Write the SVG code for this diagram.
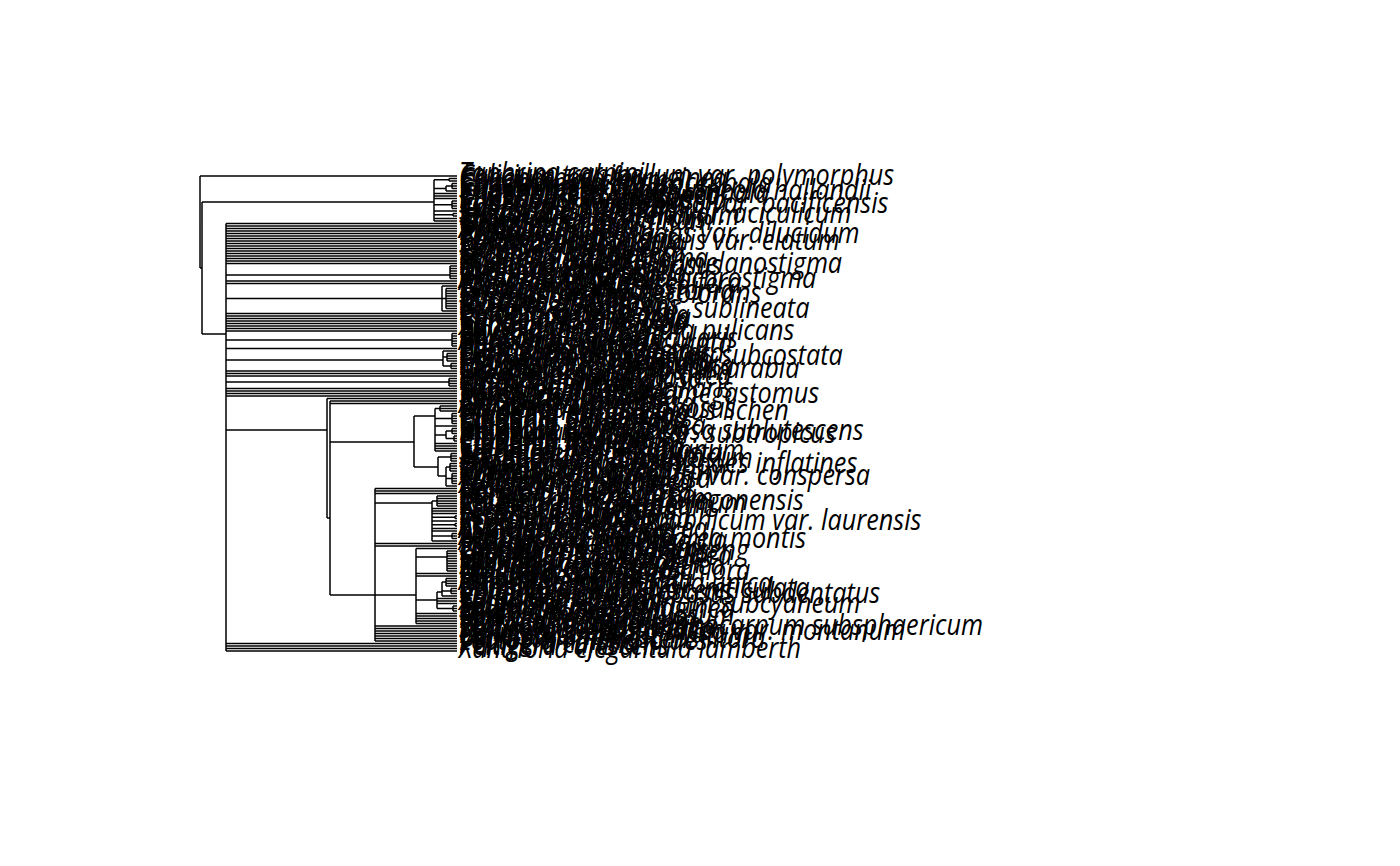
<svg xmlns="http://www.w3.org/2000/svg" width="1400" height="866" viewBox="0 0 1400 866">
<style>
.e{fill:none;stroke:#000;stroke-width:1.5}
text{font-family:"Open Sans","Noto Sans",sans-serif;font-style:italic;font-size:29px;fill:#000}
</style>
<rect width="1400" height="866" fill="#fff"/>
<g id="edges">
<path class="e" d="M200 176V268M200 176H457M200 268H202M202 202V334M202 202H434M202 334H226
M434 179.75V221M434 179.75H449M449 178.5V181M449 178.5H457M449 181H457
M434 188.5H446M446 186V191M446 186H452M452 183.5V188.5M452 183.5H457M452 186H457M452 188.5H457M446 191H457
M434 193.5H457M434 196H457M434 198.5H457
M434 204.75H452M452 201V208.5M452 201H457M452 203.5H457M452 206H457M452 208.5H457
M434 211H457M434 214.75H453M453 213.5V216M453 213.5H457M453 216H457M434 218.5H457M434 221H457
M226 223.5V651
M226 223.5H457M226 226H457M226 228.5H457M226 231H457M226 233.5H457M226 236H457M226 238.5H457M226 241H457M226 243.5H457M226 246H457M226 248.5H457M226 251H457M226 253.5H457M226 256H457M226 258.5H457M226 261H457M226 263.5H457
M226 275H450M450 266V278.5M450 266H457M450 268.5H457M450 271H457M450 273.5H457M450 276H457M450 278.5H457
M226 281H457M226 283.5H457
M226 298.5H442M442 286V311M442 286H457M442 298.5H446M446 288.5V308.5M446 288.5H457M446 291H457M446 293.5H457M446 296H457M446 298.5H457M446 301H457M446 303.5H457M446 306H457M446 308.5H457M442 311H457
M226 313.5H457M226 316H457M226 318.5H457M226 321H457M226 323.5H457M226 326H457M226 328.5H457M226 331H457
M226 340H452M452 333.5V346M452 333.5H457M452 336H457M452 338.5H457M452 341H457M452 343.5H457M452 346H457
M226 348.5H457
M226 360H443M443 351V366M443 351H457M443 357H447M447 353.5V361M447 353.5H457M447 356H457M447 358.5H457M447 361H457M443 366H451M451 363.5V368.5M451 363.5H457M451 366H457M451 368.5H457
M226 371H457M226 373.5H457M226 376H457
M226 382H449M449 378.5V386M449 378.5H457M449 381H457M449 383.5H457M449 386H457
M226 388.5H457M226 391H457M226 393.5H457M226 396H457
M226 430H327M327 398.5V518M327 398.5H457M327 518H330
M330 401V595M330 401H457M330 403.5H457M330 442H414M330 595H375
M414 416V467M414 416H435M414 467H438
M435 408.5V451M435 408.5H440M440 406V411M440 406H457M440 408.5H457M440 411H457
M435 418.5H452M452 413.5V423.5M452 413.5H457M452 416H457M452 418.5H457M452 421H457M452 423.5H457M435 426H457
M435 435H446M446 431V438.5M446 431H452M452 428.5V433.5M452 428.5H457M452 431H457M452 433.5H457M446 438.5H454M454 436V441M454 436H457M454 438.5H457M454 441H457
M435 443.5H457M435 446H457M435 448.5H457M435 451H457
M438 457V476M438 457H451M451 453.5V461M451 453.5H457M451 456H457M451 458.5H457M451 461H457
M438 476H446M446 467V486M446 467H450M450 463.5V471M450 463.5H457M450 466H457M450 468.5H457M450 471H457
M446 478.5H452M452 473.5V483.5M452 473.5H457M452 476H457M452 478.5H457M452 481H457M452 483.5H457M446 486H457
M375 488.5V641M375 488.5H457M375 491H457M375 493.5H457
M375 503H432M432 501V541M432 501H437M437 496V506M437 496H457M437 498.5H457M437 501H457M437 503.5H457M437 506H457
M432 508.5H457M432 511H457M432 513.5H457M432 517.25H455M455 516V518.5M455 516H457M455 518.5H457M432 521H457
M432 524.75H455M455 523.5V526M455 523.5H457M455 526H457M432 528.5H457M432 531H457
M432 536H452M452 533.5V538.5M452 533.5H457M452 536H457M452 538.5H457M432 541H457
M375 543.5H457M375 546H457
M375 595H416M416 548.5V623.5M416 548.5H457
M416 557H447M447 551V571M447 551H457M447 553.5H457M447 556H457M447 558.5H457M447 561H457M447 563.5H457M447 566H457M447 568.5H457M447 571H457
M416 573.5H457M416 576H457
M416 600H437M437 592V608.5M437 592H442M442 582V596M442 582H446M446 578.5V586M446 578.5H457M446 581H457M446 583.5H457M446 586H457
M442 591H451M451 588.5V593.5M451 588.5H457M451 591H457M451 593.5H457M442 596H457
M437 598.5H457M437 601H457M437 603.5H457M437 608.5H453M453 606V611M453 606H457M453 608.5H457M453 611H457
M416 613.5H457M416 616H457M416 618.5H457M416 621H457M416 623.5H457
M375 626H457M375 628.5H457M375 631H457M375 633.5H457M375 636H457M375 638.5H457M375 641H457
M226 643.5H457M226 646H457M226 648.5H457M226 651H457"/>
</g>
<g id="tips" transform="matrix(0.87 0 0 1 59.67 0)">
<g id="t0"><text x="459" y="183">Taphrina carpini</text></g>
<g id="t1"><text x="459" y="185.5">Calicium trabinellum var. polymorphus</text></g>
<g id="t2"><text x="459" y="188">Chaenotheca ferruginea</text></g>
<g id="t3"><text x="459" y="190.5">Calicium salicinum</text></g>
<g id="t4"><text x="459" y="193">Chaenotheca chrysocephala</text></g>
<g id="t5"><text x="459" y="195.5">Calicium glaucellum</text></g>
<g id="t6"><text x="459" y="198">Sclerophora nivea</text></g>
<g id="t7"><text x="459" y="200.5">Chaenotheca subbrunneola hallandii</text></g>
<g id="t8"><text x="459" y="203">Chaenotheca phaeocephala</text></g>
<g id="t9"><text x="459" y="205.5">Chaenotheca stemonea</text></g>
<g id="t10"><text x="459" y="208">Mycocalicium subtile</text></g>
<g id="t11"><text x="459" y="210.5">Chaenothecopsis pusilla</text></g>
<g id="t12"><text x="459" y="213">Sclerophora peronella var. pacificensis</text></g>
<g id="t13"><text x="459" y="215.5">Cyphelium tigillare</text></g>
<g id="t14"><text x="459" y="218">Calicium adspersum</text></g>
<g id="t15"><text x="459" y="220.5">Stenocybe pullatula</text></g>
<g id="t16"><text x="459" y="223">Stenocybe pullatula var. aciculicum</text></g>
<g id="t17"><text x="459" y="225.5">Microcalicium arenarium</text></g>
<g id="t18"><text x="459" y="228">Chaenotheca trichialis</text></g>
<g id="t19"><text x="459" y="230.5">Thelotrema lepadinum</text></g>
<g id="t20"><text x="459" y="233">Graphis scripta</text></g>
<g id="t21"><text x="459" y="235.5">Opegrapha atra</text></g>
<g id="t22"><text x="459" y="238">Arthonia radiata</text></g>
<g id="t23"><text x="459" y="240.5">Pyrenula nitida</text></g>
<g id="t24"><text x="459" y="243">Cyphelium inquinans var. dilucidum</text></g>
<g id="t25"><text x="459" y="245.5">Porina aenea</text></g>
<g id="t26"><text x="459" y="248">Trypethelium virens</text></g>
<g id="t27"><text x="459" y="250.5">Chaenotheca trichialis var. elatum</text></g>
<g id="t28"><text x="459" y="253">Strigula smaragdula</text></g>
<g id="t29"><text x="459" y="255.5">Pertusaria amara</text></g>
<g id="t30"><text x="459" y="258">Ochrolechia parella</text></g>
<g id="t31"><text x="459" y="260.5">Phlyctis argena</text></g>
<g id="t32"><text x="459" y="263">Lecanora chlarotera</text></g>
<g id="t33"><text x="459" y="265.5">Lecanora carpinea</text></g>
<g id="t34"><text x="459" y="268">Lecidella elaeochroma</text></g>
<g id="t35"><text x="459" y="270.5">Buellia punctata</text></g>
<g id="t36"><text x="459" y="273">Pyrenula nitida var. melanostigma</text></g>
<g id="t37"><text x="459" y="275.5">Diploschistes scruposus</text></g>
<g id="t38"><text x="459" y="278">Gyalecta jenensis</text></g>
<g id="t39"><text x="459" y="280.5">Coenogonium pineti</text></g>
<g id="t40"><text x="459" y="283">Pyrenula chlorospila</text></g>
<g id="t41"><text x="459" y="285.5">Graphis elegans</text></g>
<g id="t42"><text x="459" y="288">Arthonia didymella ochrostigma</text></g>
<g id="t43"><text x="459" y="290.5">Arthonia spadicea</text></g>
<g id="t44"><text x="459" y="293">Opegrapha vermicellifera</text></g>
<g id="t45"><text x="459" y="295.5">Enterographa crassa</text></g>
<g id="t46"><text x="459" y="298">Lecanactis abietina</text></g>
<g id="t47"><text x="459" y="300.5">Thelotrema macrostoma</text></g>
<g id="t48"><text x="459" y="303">Schismatomma decolorans</text></g>
<g id="t49"><text x="459" y="305.5">Bacidia rubella</text></g>
<g id="t50"><text x="459" y="308">Bacidia arceutina</text></g>
<g id="t51"><text x="459" y="310.5">Micarea prasina</text></g>
<g id="t52"><text x="459" y="313">Micarea denigrata</text></g>
<g id="t53"><text x="459" y="315.5">Biatora efflorescens</text></g>
<g id="t54"><text x="459" y="318">Graphis elegans var. sublineata</text></g>
<g id="t55"><text x="459" y="320.5">Lecania cyrtella</text></g>
<g id="t56"><text x="459" y="323">Caloplaca cerinella</text></g>
<g id="t57"><text x="459" y="325.5">Caloplaca holocarpa</text></g>
<g id="t58"><text x="459" y="328">Candelariella aurella</text></g>
<g id="t59"><text x="459" y="330.5">Candelariella reflexa</text></g>
<g id="t60"><text x="459" y="333">Candelaria concolor</text></g>
<g id="t61"><text x="459" y="335.5">Xanthoria polycarpa</text></g>
<g id="t62"><text x="459" y="338">Physcia tenella</text></g>
<g id="t63"><text x="459" y="340.5">Opegrapha vulgatula pulicans</text></g>
<g id="t64"><text x="459" y="343">Physcia aipolia</text></g>
<g id="t65"><text x="459" y="345.5">Physconia distorta</text></g>
<g id="t66"><text x="459" y="348">Phaeophyscia orbicularis</text></g>
<g id="t67"><text x="459" y="350.5">Anaptychia ciliaris</text></g>
<g id="t68"><text x="459" y="353">Heterodermia obscurata</text></g>
<g id="t69"><text x="459" y="355.5">Parmelia sulcata</text></g>
<g id="t70"><text x="459" y="358">Parmelina tiliacea</text></g>
<g id="t71"><text x="459" y="360.5">Punctelia subrudecta</text></g>
<g id="t72"><text x="459" y="363">Flavoparmelia caperata</text></g>
<g id="t73"><text x="459" y="365.5">Pertusaria pertusa var. subcostata</text></g>
<g id="t74"><text x="459" y="368">Parmotrema perlatum</text></g>
<g id="t75"><text x="459" y="370.5">Hypotrachyna revoluta</text></g>
<g id="t76"><text x="459" y="373">Melanelixia glabratula</text></g>
<g id="t77"><text x="459" y="375.5">Melanohalea exasperata</text></g>
<g id="t78"><text x="459" y="378">Caloplaca cerinella var. arabia</text></g>
<g id="t79"><text x="459" y="380.5">Pleurosticta acetabulum</text></g>
<g id="t80"><text x="459" y="383">Evernia prunastri</text></g>
<g id="t81"><text x="459" y="385.5">Pseudevernia furfuracea</text></g>
<g id="t82"><text x="459" y="388">Hypogymnia tubulosa</text></g>
<g id="t83"><text x="459" y="390.5">Platismatia glauca</text></g>
<g id="t84"><text x="459" y="393">Cetraria islandica</text></g>
<g id="t85"><text x="459" y="395.5">Vulpicida pinastri</text></g>
<g id="t86"><text x="459" y="398">Tuckermannopsis ciliaris</text></g>
<g id="t87"><text x="459" y="400.5">Usnea subfloridana</text></g>
<g id="t88"><text x="459" y="403">Sarcogyne clavulus megastomus</text></g>
<g id="t89"><text x="459" y="405.5">Ramalina farinacea</text></g>
<g id="t90"><text x="459" y="408">Ramalina fraxinea</text></g>
<g id="t91"><text x="459" y="410.5">Bryoria fuscescens</text></g>
<g id="t92"><text x="459" y="413">Alectoria sarmentosa</text></g>
<g id="t93"><text x="459" y="415.5">Letharia vulpina</text></g>
<g id="t94"><text x="459" y="418">Sphaerophorus globosus</text></g>
<g id="t95"><text x="459" y="420.5">Unidentified saxicolous lichen</text></g>
<g id="t96"><text x="459" y="423">Cladonia rangiferina</text></g>
<g id="t97"><text x="459" y="425.5">Cladonia arbuscula</text></g>
<g id="t98"><text x="459" y="428">Cladonia portentosa</text></g>
<g id="t99"><text x="459" y="430.5">Cladonia pyxidata</text></g>
<g id="t100"><text x="459" y="433">Cladonia fimbriata</text></g>
<g id="t101"><text x="459" y="435.5">Cladonia chlorophaea</text></g>
<g id="t102"><text x="459" y="438">Cladonia coniocraea</text></g>
<g id="t103"><text x="459" y="440.5">Heterodermia speciosa sublutescens</text></g>
<g id="t104"><text x="459" y="443">Physcia undulata var. subtropicus</text></g>
<g id="t105"><text x="459" y="445.5">Cladonia furcata</text></g>
<g id="t106"><text x="459" y="448">Cladonia squamosa</text></g>
<g id="t107"><text x="459" y="450.5">Cladonia uncialis</text></g>
<g id="t108"><text x="459" y="453">Cladonia macilenta</text></g>
<g id="t109"><text x="459" y="455.5">Cladonia floerkeana</text></g>
<g id="t110"><text x="459" y="458">Cladonia bellidiflora</text></g>
<g id="t111"><text x="459" y="460.5">Stereocaulon vesuvianum</text></g>
<g id="t112"><text x="459" y="463">Lecania erysibe robusta</text></g>
<g id="t113"><text x="459" y="465.5">Stereocaulon alpinum</text></g>
<g id="t114"><text x="459" y="468">Stereocaulon tomentosum</text></g>
<g id="t115"><text x="459" y="470.5">Pilophorus robustus</text></g>
<g id="t116"><text x="459" y="473">Hypogymnia subphysodes inflatines</text></g>
<g id="t117"><text x="459" y="475.5">Baeomyces rufus</text></g>
<g id="t118"><text x="459" y="478">Dibaeis baeomyces</text></g>
<g id="t119"><text x="459" y="480.5">Icmadophila ericetorum</text></g>
<g id="t120"><text x="459" y="483">Trapelia coarctata</text></g>
<g id="t121"><text x="459" y="485.5">Xanthoparmelia plittii var. conspersa</text></g>
<g id="t122"><text x="459" y="488">Trapeliopsis granulosa</text></g>
<g id="t123"><text x="459" y="490.5">Placynthiella icmalea</text></g>
<g id="t124"><text x="459" y="493">Xylographa parallela</text></g>
<g id="t125"><text x="459" y="495.5">Lecidea fuscoatra</text></g>
<g id="t126"><text x="459" y="498">Lecidea lapicida</text></g>
<g id="t127"><text x="459" y="500.5">Porpidia crustulata</text></g>
<g id="t128"><text x="459" y="503">Porpidia tuberculosa</text></g>
<g id="t129"><text x="459" y="505.5">Porpidia macrocarpa</text></g>
<g id="t130"><text x="459" y="508">Rhizocarpon reductum</text></g>
<g id="t131"><text x="459" y="510.5">Lecidea auriculata oregonensis</text></g>
<g id="t132"><text x="459" y="513">Rhizocarpon lecanorinum</text></g>
<g id="t133"><text x="459" y="515.5">Rhizocarpon petraeum</text></g>
<g id="t134"><text x="459" y="518">Tremolecia atrata</text></g>
<g id="t135"><text x="459" y="520.5">Lecanora polytropa</text></g>
<g id="t136"><text x="459" y="523">Lecanora rupicola</text></g>
<g id="t137"><text x="459" y="525.5">Lecanora muralis</text></g>
<g id="t138"><text x="459" y="528">Protoparmelia badia</text></g>
<g id="t139"><text x="459" y="530.5">Rhizocarpon geographicum var. laurensis</text></g>
<g id="t140"><text x="459" y="533">Tephromela atra</text></g>
<g id="t141"><text x="459" y="535.5">Aspicilia cinerea</text></g>
<g id="t142"><text x="459" y="538">Aspicilia caesiocinerea</text></g>
<g id="t143"><text x="459" y="540.5">Circinaria calcarea</text></g>
<g id="t144"><text x="459" y="543">Lobothallia radiosa</text></g>
<g id="t145"><text x="459" y="545.5">Acarospora fuscata</text></g>
<g id="t146"><text x="459" y="548">Umbilicaria hyperborea montis</text></g>
<g id="t147"><text x="459" y="550.5">Acarospora smaragdula</text></g>
<g id="t148"><text x="459" y="553">Sarcogyne regularis</text></g>
<g id="t149"><text x="459" y="555.5">Polysporina simplex</text></g>
<g id="t150"><text x="459" y="558">Umbilicaria cylindrica</text></g>
<g id="t151"><text x="459" y="560.5">Lasallia rossicana ginseng</text></g>
<g id="t152"><text x="459" y="563">Umbilicaria polyphylla</text></g>
<g id="t153"><text x="459" y="565.5">Umbilicaria proboscidea</text></g>
<g id="t154"><text x="459" y="568">Lasallia pustulata</text></g>
<g id="t155"><text x="459" y="570.5">Ophioparma ventosa</text></g>
<g id="t156"><text x="459" y="573">Miriquidica garovaglii</text></g>
<g id="t157"><text x="459" y="575.5">Schaereria fuscocinerea</text></g>
<g id="t158"><text x="459" y="578">Fuscidea cyathoides</text></g>
<g id="t159"><text x="459" y="580.5">Cladonia cornutula chlora</text></g>
<g id="t160"><text x="459" y="583">Lecidella stigmatea</text></g>
<g id="t161"><text x="459" y="585.5">Buellia aethalea</text></g>
<g id="t162"><text x="459" y="588">Rinodina gennarii</text></g>
<g id="t163"><text x="459" y="590.5">Amandinea punctata</text></g>
<g id="t164"><text x="459" y="593">Ramalina pollinariella unica</text></g>
<g id="t165"><text x="459" y="595.5">Dimelaena oreina</text></g>
<g id="t166"><text x="459" y="598">Bryoria capillaris var. reticulata</text></g>
<g id="t167"><text x="459" y="600.5">Caloplaca flavovirescens</text></g>
<g id="t168"><text x="459" y="603">Sphaerophorus globosus subdentatus</text></g>
<g id="t169"><text x="459" y="605.5">Caloplaca citrina</text></g>
<g id="t170"><text x="459" y="608">Caloplaca saxicola</text></g>
<g id="t171"><text x="459" y="610.5">Xanthoria elegans</text></g>
<g id="t172"><text x="459" y="613">Leptogium saturninum subcyaneum</text></g>
<g id="t173"><text x="459" y="615.5">Fulgensia fulgens</text></g>
<g id="t174"><text x="459" y="618">Squamarina cartilaginea</text></g>
<g id="t175"><text x="459" y="620.5">Psora decipiens</text></g>
<g id="t176"><text x="459" y="623">Toninia sedifolia</text></g>
<g id="t177"><text x="459" y="625.5">Placidium squamulosum</text></g>
<g id="t178"><text x="459" y="628">Endocarpon pusillum</text></g>
<g id="t179"><text x="459" y="630.5">Verrucaria muralis</text></g>
<g id="t180"><text x="459" y="633">Verrucaria nigrescens</text></g>
<g id="t181"><text x="459" y="635.5">Bunodophoron melanocarpum subsphaericum</text></g>
<g id="t182"><text x="459" y="638">Staurothele frustulenta</text></g>
<g id="t183"><text x="459" y="640.5">Peltigera membranacea var. montanum</text></g>
<g id="t184"><text x="459" y="643">Dermatocarpon miniatum</text></g>
<g id="t185"><text x="459" y="645.5">Collema tenax</text></g>
<g id="t186"><text x="459" y="648">Verrucaria nigrescens litora</text></g>
<g id="t187"><text x="459" y="650.5">Leptogium lichenoides</text></g>
<g id="t188"><text x="459" y="653">Peltigera canina</text></g>
<g id="t189"><text x="459" y="655.5">Peltigera rufescens</text></g>
<g id="t190"><text x="459" y="658">Xanthoria elegantula lamberth</text></g>
</g>
</svg>
